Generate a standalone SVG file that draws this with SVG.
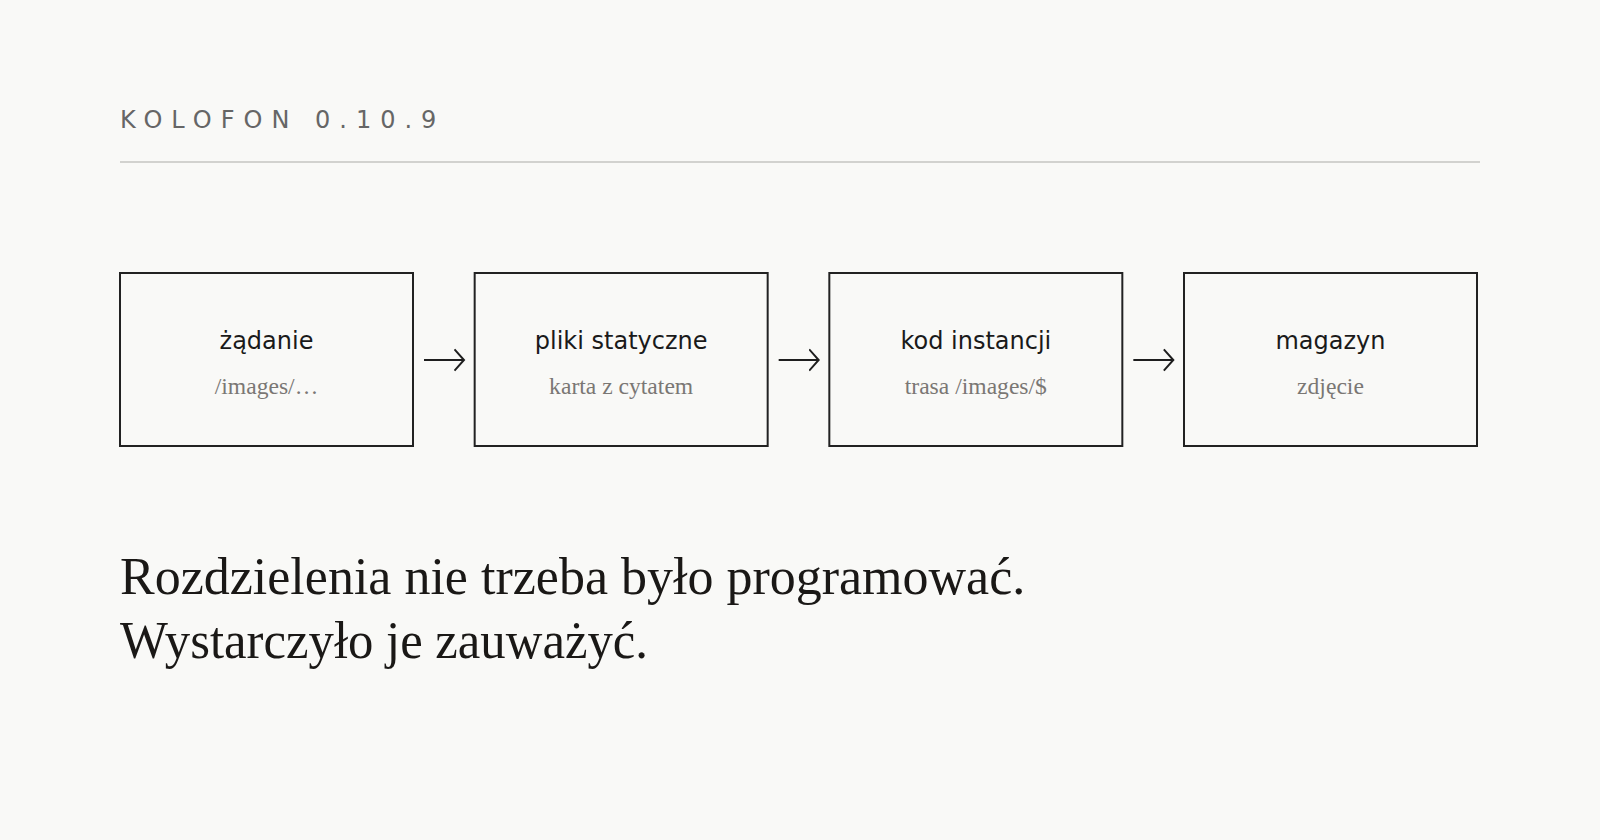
<svg xmlns="http://www.w3.org/2000/svg" width="1600" height="840" viewBox="0 0 1600 840">
  <defs>
    <marker id="chev" viewBox="0 0 12 24" refX="10" refY="12" markerWidth="12" markerHeight="24" markerUnits="userSpaceOnUse" orient="auto">
      <path d="M0.5 1.3 L10 12 L0.5 22.7" fill="none" stroke="#1e1e1e" stroke-width="2"/>
    </marker>
  </defs>
  <style>
    .bg { fill: #f9f9f7; }
    .rule { stroke: #c4c4c2; stroke-width: 1.5; }
    .kicker { font-family: "DejaVu Sans", sans-serif; font-size: 24px; letter-spacing: 9px; fill: #666; }
    .box { fill: none; stroke: #222; stroke-width: 2; }
    .title { font-family: "DejaVu Sans", sans-serif; font-size: 24px; fill: #1a1a1a; text-anchor: middle; }
    .sub { font-family: "Liberation Serif", serif; font-size: 23.6px; fill: #7a7774; text-anchor: middle; }
    .conn { stroke: #1e1e1e; stroke-width: 2; fill: none; }
    .big { font-family: "Liberation Serif", serif; font-size: 52px; fill: #1a1816; }
  </style>
  <rect class="bg" x="0" y="0" width="1600" height="840"/>
  <text class="kicker" x="120" y="127.5">KOLOFON 0.10.9</text>
  <line class="rule" x1="120" y1="162" x2="1480" y2="162"/>

  <g id="node-zadanie">
    <rect class="box" x="120" y="273" width="293" height="173"/>
    <text class="title" x="266.5" y="349">żądanie</text>
    <text class="sub" x="266.5" y="394">/images/…</text>
  </g>
  <g id="node-pliki">
    <rect class="box" x="474.67" y="273" width="293" height="173"/>
    <text class="title" x="621.17" y="349">pliki statyczne</text>
    <text class="sub" x="621.17" y="394">karta z cytatem</text>
  </g>
  <g id="node-kod">
    <rect class="box" x="829.33" y="273" width="293" height="173"/>
    <text class="title" x="975.83" y="349">kod instancji</text>
    <text class="sub" x="975.83" y="394">trasa /images/$</text>
  </g>
  <g id="node-magazyn">
    <rect class="box" x="1184" y="273" width="293" height="173"/>
    <text class="title" x="1330.5" y="349">magazyn</text>
    <text class="sub" x="1330.5" y="394">zdjęcie</text>
  </g>

  <g id="connectors">
    <line class="conn" x1="424" y1="360" x2="464" y2="360" marker-end="url(#chev)"/>
    <line class="conn" x1="778.67" y1="360" x2="818.67" y2="360" marker-end="url(#chev)"/>
    <line class="conn" x1="1133.33" y1="360" x2="1173.33" y2="360" marker-end="url(#chev)"/>
  </g>

  <text class="big" x="120" y="593.5">Rozdzielenia nie trzeba było programować.</text>
  <text class="big" x="120" y="657.5" textLength="528" lengthAdjust="spacingAndGlyphs">Wystarczyło je zauważyć.</text>
</svg>
